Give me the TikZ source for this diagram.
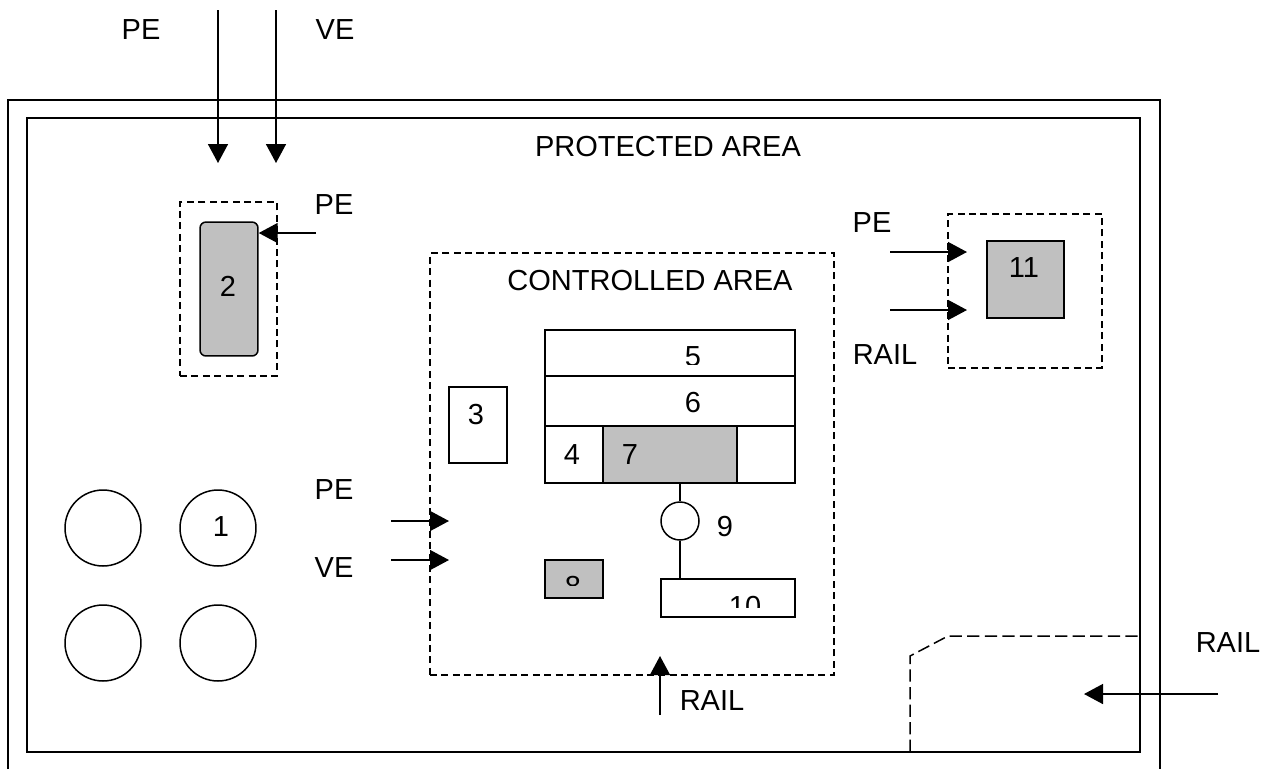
\documentclass[tikz,border=0pt]{standalone}
\usepackage{fontspec}
\setmainfont{Liberation Sans}
\usetikzlibrary{arrows.meta}

\definecolor{boxgray}{RGB}{192,192,192}

\tikzset{
  wall/.style={line width=0.35mm},
  zone/.style={draw,line width=0.3mm,dash pattern=on 4pt off 2.5pt,inner sep=0pt},
  part/.style={draw,rectangle,line width=0.3mm,inner sep=0pt},
  tank/.style={draw,circle,line width=0.3mm,inner sep=0pt,minimum size=1.52cm},
  flow/.style={line width=0.3mm,-{Triangle[length=3.8mm,width=4mm]}},
  tag/.style={inner sep=0pt}
}

\begin{document}
\begin{tikzpicture}[x=0.02cm,y=-0.02cm,font=\fontsize{16.5}{19}\selectfont]
\useasboundingbox (0,0) rectangle (1278,769);

%site boundary
\draw[wall] (8,769) -- (8,100) -- (1160,100) -- (1160,769);
\draw[wall] (27,118) rectangle (1140,752);
\node[tag] (protected) at (668,147) {PROTECTED AREA};

%entries from the top
\node[tag] (peTop) at (141,30) {PE};
\node[tag] (veTop) at (335,30) {VE};
\coordinate (peTopIn) at (218,10);
\coordinate (peTopTip) at (218,163);
\coordinate (veTopIn) at (276,10);
\coordinate (veTopTip) at (276,163);
\draw[flow] (peTopIn) -- (peTopTip);
\draw[flow] (veTopIn) -- (veTopTip);

%building 2
\node[zone,minimum width=1.94cm,minimum height=3.48cm] (zoneTwo) at (228.5,289) {};
\node[part,fill=boxgray,rounded corners=0.12cm,minimum width=1.16cm,minimum height=2.68cm] (box2) at (229,289) {};
\node[tag] (lbl2) at (228,286) {2};
\node[tag] (peTwo) at (334,205) {PE};
\coordinate (peTwoIn) at (316,233);
\draw[flow] (peTwoIn) -- (peTwoIn -| box2.east);

%tanks
\node[tank] (tankA) at (103,528) {};
\node[tank] (tankB) at (218,528) {};
\node[tag] (lbl1) at (221,527) {1};
\node[tank] (tankC) at (103,643) {};
\node[tank] (tankD) at (218,643) {};

%controlled area
\node[zone,minimum width=8.08cm,minimum height=8.44cm] (controlled) at (632,464) {};
\node[tag] (ctrlLabel) at (650,281) {CONTROLLED AREA};

\node[part,minimum width=5cm,minimum height=0.92cm] (cell5) at (670,353) {};
\node[part,minimum width=5cm,minimum height=1cm] (cell6) at (670,401) {};
\node[part,minimum width=1.16cm,minimum height=1.14cm] (cell4) at (574,454.5) {};
\node[part,fill=boxgray,minimum width=2.68cm,minimum height=1.14cm] (cell7) at (670,454.5) {};
\node[part,minimum width=1.16cm,minimum height=1.14cm] (cellR) at (766,454.5) {};
\begin{scope}
\clip (545,330) rectangle (795,364);
\node[tag] (lbl5) at (693,357) {5};
\end{scope}
\node[tag] (lbl6) at (693,403) {6};
\node[tag] (lbl4) at (572,455) {4};
\node[tag] (lbl7) at (630,455) {7};

\node[part,minimum width=1.16cm,minimum height=1.52cm] (box3) at (478,425) {};
\node[tag] (lbl3) at (476,415) {3};

\node[part,circle,minimum size=0.76cm] (pump9) at (680,521) {};
\node[tag] (lbl9) at (725,527) {9};
\node[part,minimum width=2.68cm,minimum height=0.76cm] (box10) at (728,598) {};
\draw[line width=0.3mm] (pump9.north) -- (pump9.north |- cell7.south);
\draw[line width=0.3mm] (pump9.south) -- (pump9.south |- box10.north);
\begin{scope}
\clip (661,579) rectangle (795,607);
\node[tag] (lbl10) at (745,607) {10};
\end{scope}

\node[part,fill=boxgray,minimum width=1.16cm,minimum height=0.76cm] (box8) at (574,579) {};
\begin{scope}
\clip (545,560) rectangle (603,585);
\node[tag] (lbl8) at (573,587) {8};
\end{scope}

%entries to controlled area
\node[tag] (peSide) at (334,490) {PE};
\node[tag] (veSide) at (334,568) {VE};
\coordinate (peSideIn) at (391,521);
\coordinate (peSideTip) at (449,521);
\coordinate (veSideIn) at (391,560);
\coordinate (veSideTip) at (449,560);
\draw[flow] (peSideIn) -- (peSideTip);
\draw[flow] (veSideIn) -- (veSideTip);

\coordinate (railCtrlIn) at (660,715);
\coordinate (railCtrlTip) at (660,656);
\draw[flow] (railCtrlIn) -- (railCtrlTip);
\node[tag] (railCtrl) at (712,701) {RAIL};

%building 11
\node[zone,minimum width=3.08cm,minimum height=3.08cm] (zoneEleven) at (1025,291) {};
\node[part,fill=boxgray,minimum width=1.54cm,minimum height=1.54cm] (box11) at (1025.5,279.5) {};
\node[tag] (lbl11) at (1024,268) {11};
\node[tag] (peEleven) at (872,223) {PE};
\node[tag] (railEleven) at (885,355) {RAIL};
\coordinate (peElevenIn) at (890,252);
\coordinate (peElevenTip) at (967,252);
\coordinate (railElevenIn) at (890,310);
\coordinate (railElevenTip) at (967,310);
\draw[flow] (peElevenIn) -- (peElevenTip);
\draw[flow] (railElevenIn) -- (railElevenTip);

%rail siding
\draw[line width=0.3mm,dash pattern=on 7pt off 3pt] (910,752) -- (910,656) -- (948,636) -- (1140,636);
\node[tag] (railSite) at (1228,643) {RAIL};
\coordinate (railSiteIn) at (1218,694);
\coordinate (railSiteTip) at (1084,694);
\draw[flow] (railSiteIn) -- (railSiteTip);

\end{tikzpicture}
\end{document}
